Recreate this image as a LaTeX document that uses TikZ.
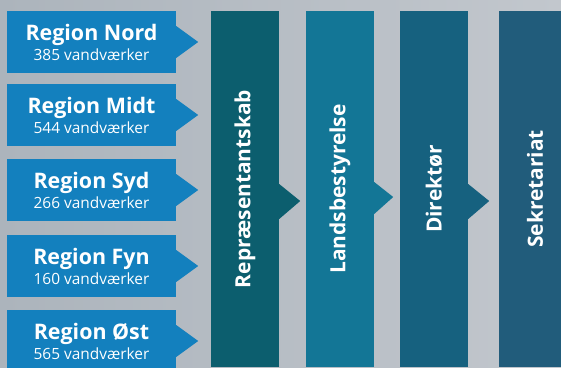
\documentclass[tikz,border=0pt]{standalone}
\usepackage{fontspec}
\setmainfont{Open Sans}
\definecolor{regblue}{RGB}{19,128,190}
\definecolor{repcol}{RGB}{12,94,110}
\definecolor{landcol}{RGB}{19,118,150}
\definecolor{dircol}{RGB}{22,97,127}
\definecolor{sekcol}{RGB}{33,92,123}
\definecolor{bgleft}{RGB}{172,180,188}
\definecolor{bgmid}{RGB}{214,218,222}
\definecolor{bgright}{RGB}{194,199,205}
\begin{document}
\begin{tikzpicture}[x=1bp,y=-1bp,
  region/.style={fill=regblue, text=white, minimum width=169bp, minimum height=62bp,
    inner sep=0pt, align=center, font=\fontsize{21.5}{23}\selectfont\bfseries},
  column/.style={rotate=90, text=white, minimum width=356bp, minimum height=68bp,
    inner sep=0pt, font=\fontsize{21}{23}\selectfont\bfseries},
  pointer/.style={fill=#1}]
\useasboundingbox (0,0) rectangle (561,367);
\shade[left color=bgleft, middle color=bgmid, right color=bgright] (0,0) rectangle (561,367);
% regions
\foreach \n/\y/\t/\c in {nord/42/Nord/385, midt/115/Midt/544, syd/190/Syd/266, fyn/266/Fyn/160, ost/341/Øst/565}{
  \node[region] (\n) at (91.5,\y) {Region \t\\[-3pt]{\fontsize{15.5}{17}\selectfont\mdseries \c\ vandværker}};
  \fill[regblue] ([yshift=-16bp]\n.east) -- ([xshift=22bp]\n.east) -- ([yshift=16bp]\n.east) -- cycle;
}
% columns
\node[column, fill=repcol] (rep) at (245,189) {Repræsentantskab};
\node[column, fill=landcol] (land) at (340,189) {Landsbestyrelse};
\node[column, fill=dircol] (dir) at (434,189) {Direktør};
\node[column, fill=sekcol, minimum height=72bp] (sek) at (535,189) {Sekretariat};
% pointers between columns
\fill[repcol] ([yshift=-6bp]rep.south) ++(0,-11) -- ++(21,17) -- ++(-21,18) -- cycle;
\fill[landcol] ([yshift=-4bp]land.south) ++(0,-11) -- ++(19,15) -- ++(-19,17) -- cycle;
\fill[dircol] ([yshift=-6bp]dir.south) ++(0,-11) -- ++(21,17) -- ++(-21,18) -- cycle;
\end{tikzpicture}
\end{document}
